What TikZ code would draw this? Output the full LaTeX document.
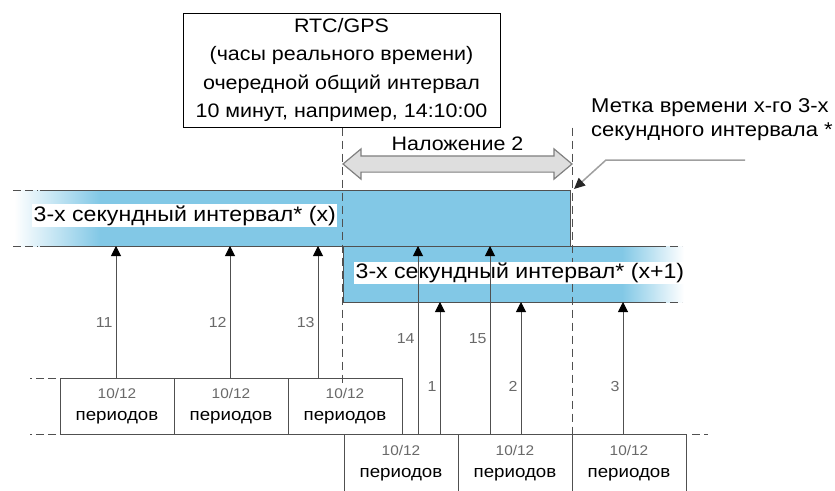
\documentclass[tikz,border=0pt]{standalone}
\usepackage{fontspec}
\setmainfont{Liberation Sans}[FakeStretch=1.1]
\usetikzlibrary{shapes.arrows, arrows.meta, positioning}
\definecolor{barBlue}{RGB}{130, 200, 230}
\definecolor{lineGray}{RGB}{80, 80, 80}
\definecolor{numGray}{RGB}{105, 105, 105}
\definecolor{olapGray}{RGB}{222, 222, 222}

\begin{document}
\begin{tikzpicture}[
    x=1pt, y=-1pt,
    infobox/.style={rectangle, draw=black, line width=1pt, minimum width=317pt, minimum height=114pt, align=center, font=\fontsize{19.5}{28.5}\selectfont},
    period/.style={rectangle, draw=lineGray, line width=1pt, minimum width=114pt, minimum height=56pt, outer sep=0pt, inner sep=0pt, align=center, font=\fontsize{17}{22}\selectfont},
    tag/.style={fill=white, inner sep=1.5pt, anchor=west, font=\fontsize{21}{24}\selectfont},
    edge/.style={draw=lineGray, line width=1pt},
    ext/.style={draw=lineGray, line width=1pt, dash pattern=on 8pt off 4pt},
    guide/.style={draw=lineGray, line width=1pt, dash pattern=on 8pt off 5pt},
    feed/.style={draw=lineGray, line width=1pt, -{Triangle[length=10pt, width=10pt, color=black]}},
    num/.style={left, inner sep=3pt, text=numGray, font=\fontsize{14.5}{16}\selectfont},
    pointer/.style={draw=gray!75, line width=1.5pt, -{Triangle[length=11pt, width=10pt, color=black!85]}}
]
    \useasboundingbox (0,0) rectangle (835,490);

    % Blocos do topo
    \node (rtc) [infobox] at (341.5,70) {RTC/GPS\\(часы реального времени)\\очередной общий интервал\\10 минут, например, 14:10:00};
    \node (olap) [double arrow, draw=gray, fill=olapGray, line width=1.2pt, inner xsep=0pt, inner ysep=7.5pt, double arrow head extend=7pt, double arrow tip angle=80, minimum height=229pt] at (457.5,164) {};
    \node (olapl) [above=1pt of olap, font=\fontsize{19.5}{22}\selectfont] {Наложение 2};
    \node (mark) [anchor=north west, align=left, inner sep=0pt, font=\fontsize{20}{24}\selectfont] at (591,98) {Метка времени х-го 3-х\\секундного интервала *};

    % Intervalos
    \fill[barBlue] (100,190) rectangle (570,246);
    \shade[left color=white, right color=barBlue] (14,190) rectangle (100,246);
    \fill[barBlue] (343,246) rectangle (622,302);
    \shade[left color=barBlue, right color=white] (622,246) rectangle (684,302);
    \coordinate (xb) at (0,246);
    \coordinate (yb) at (0,302);

    % Periodos
    \node (p11) [period] at (117,406) {\textcolor{numGray}{\fontsize{14}{17}\selectfont 10/12}\\периодов};
    \node (p12) [period, right=0pt of p11] {\textcolor{numGray}{\fontsize{14}{17}\selectfont 10/12}\\периодов};
    \node (p13) [period, right=0pt of p12] {\textcolor{numGray}{\fontsize{14}{17}\selectfont 10/12}\\периодов};
    \node (p14) [period, minimum height=59pt] at (401,463.5) {\textcolor{numGray}{\fontsize{14}{17}\selectfont 10/12}\\периодов};
    \node (p15) [period, minimum height=59pt, right=0pt of p14] {\textcolor{numGray}{\fontsize{14}{17}\selectfont 10/12}\\периодов};
    \node (p16) [period, minimum height=59pt, right=0pt of p15] {\textcolor{numGray}{\fontsize{14}{17}\selectfont 10/12}\\периодов};

    % Linhas guia
    \draw[guide] (olap.west |- rtc.south) -- ([yshift=-5pt]olap.west |- p13.north);
    \draw[guide] (olap.east |- rtc.south) -- (olap.east |- p15.north);

    % Bordas
    \draw[edge] (40,190) -- (570,190) -- (570,246);
    \draw[edge] (40,246) -- (666,246);
    \draw[edge] (343,246) -- (343,302) -- (666,302);
    \draw[ext] (13,190) -- (38,190);
    \draw[ext] (13,246) -- (38,246);
    \draw[ext] (670,246) -- (682,246);
    \draw[ext] (670,302) -- (682,302);
    \draw[ext] ([xshift=-4pt]p11.north west) -- ++(-26,0);
    \draw[ext] ([xshift=-4pt]p11.south west) -- ++(-26,0);
    \draw[ext] ([xshift=6pt]p16.north east) -- ++(16,0);

    \node (lx) [tag] at (32,215.5) {3-х секундный интервал* (x)};
    \node (lx1) [tag] at (354,273) {3-х секундный интервал* (x+1)};

    % Conexoes
    \foreach \src/\dx/\dst/\pos/\n in {p11/-1/xb/0.42/11, p12/-1/xb/0.42/12, p13/-27/xb/0.42/13, p14/17/xb/0.51/14, p15/-25/xb/0.51/15, p14/39/yb/0.36/1, p15/6/yb/0.36/2, p16/-6/yb/0.36/3}
        \draw[feed] ([xshift=\dx pt]\src.north) -- ([xshift=\dx pt]\src.north |- \dst) node[num, pos=\pos] {\n};

    \coordinate (mk) at (745,160);
    \coordinate (mb) at (606,160);
    \coordinate (mt) at (574,189);
    \path[pointer] (mk) -- (mb) -- (mt);
\end{tikzpicture}
\end{document}
